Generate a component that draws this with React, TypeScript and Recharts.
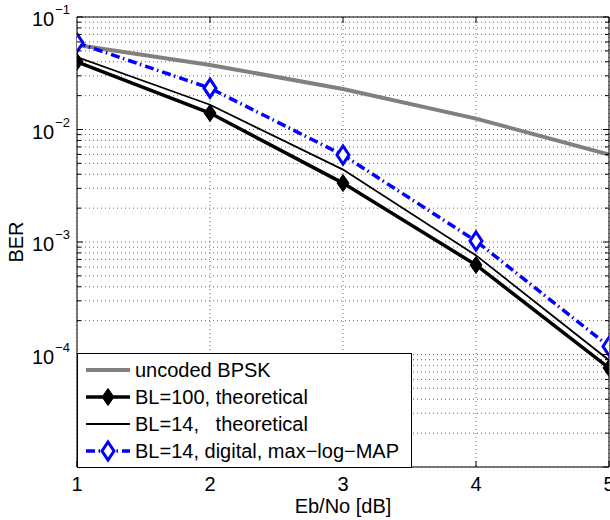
import React from 'react';
import { LineChart, Line, XAxis, YAxis, CartesianGrid, Legend, Label } from 'recharts';

// ---- data ----
const ebno = [1, 2, 3, 4, 5];
const uncodedBPSK = [0.0563, 0.0375, 0.0229, 0.0125, 0.006];
const bl100Theoretical = [0.04, 0.014, 0.00334, 0.000625, 0.000076];
const bl14Theoretical = [0.044, 0.0166, 0.0044, 0.00076, 0.000089];
const bl14Digital = [0.059, 0.0233, 0.00593, 0.00102, 0.000118];

const seriesNames = [
  'uncoded BPSK',
  'BL=100, theoretical',
  'BL=14,   theoretical',
  'BL=14, digital, max\u2212log\u2212MAP',
];

const xAxisTitle = 'Eb/No [dB]';
const yAxisTitle = 'BER';

// tick values
const yDecades = [-5, -4, -3, -2];
const yMinorMantissas = [2, 3, 4, 5, 6, 7, 8, 9];
const yLabelExponents = [-1, -2, -3, -4];
const yTopDecade = -1;

const FONT = "'Liberation Sans', Arial, Helvetica, sans-serif";

const yTicks: number[] = [];
yDecades.forEach((e) => {
  yTicks.push(Number(Math.pow(10, e).toPrecision(6)));
  yMinorMantissas.forEach((m) => yTicks.push(Number((m * Math.pow(10, e)).toPrecision(6))));
});
yTicks.push(Number(Math.pow(10, yTopDecade).toPrecision(6)));

const data = ebno.map((x, i) => ({
  x,
  uncoded: uncodedBPSK[i],
  bl100: bl100Theoretical[i],
  bl14: bl14Theoretical[i],
  digital: bl14Digital[i],
}));

type SeriesStyle = {
  key: string;
  name: string;
  color: string;
  width: number;
  dash?: string;
  marker?: 'filled' | 'open';
};

const series: SeriesStyle[] = [
  { key: 'uncoded', name: seriesNames[0], color: '#808080', width: 4 },
  { key: 'bl100', name: seriesNames[1], color: '#000000', width: 3.5, marker: 'filled' },
  { key: 'bl14', name: seriesNames[2], color: '#000000', width: 1.8 },
  { key: 'digital', name: seriesNames[3], color: '#0000ff', width: 3.5, dash: '9 3.5 1.5 4', marker: 'open' },
];

const isMajor = (v: number) => {
  const l = Math.log10(v);
  return Math.abs(l - Math.round(l)) < 1e-9;
};

function Diamond({ cx, cy, kind, color }: any) {
  if (cx == null || cy == null) return null;
  const filled = kind === 'filled';
  const hw = 6;
  const hh = filled ? 8.5 : 9;
  const d = `M${cx},${cy - hh} L${cx + hw},${cy} L${cx},${cy + hh} L${cx - hw},${cy} Z`;
  return (
    <path
      d={d}
      fill={filled ? color : '#ffffff'}
      stroke={color}
      strokeWidth={filled ? 1 : 3}
      strokeLinejoin="miter"
    />
  );
}

function YTickLeft(props: any) {
  const { x, y, payload } = props;
  const v = payload.value;
  const major = isMajor(v);
  const len = major ? 6 : 4;
  const exp = Math.round(Math.log10(v));
  const showLabel = major && yLabelExponents.includes(exp);
  return (
    <g>
      <line x1={x} x2={x + len} y1={y} y2={y} stroke="#000" strokeWidth={1} />
      {showLabel && (
        <text x={x - 7} y={y + 9} textAnchor="end" fontSize={20} fill="#000" fontFamily={FONT}>
          <tspan>10</tspan>
          <tspan dx={1} dy={-12} fontSize={13}>{'\u2212' + Math.abs(exp)}</tspan>
        </text>
      )}
    </g>
  );
}

function YTickRight(props: any) {
  const { x, y, payload } = props;
  const len = isMajor(payload.value) ? 6 : 4;
  return <line x1={x} x2={x - len} y1={y} y2={y} stroke="#000" strokeWidth={1} />;
}

function XTickBottom(props: any) {
  const { x, y, payload } = props;
  return (
    <g>
      <line x1={x} x2={x} y1={y} y2={y - 6} stroke="#000" strokeWidth={1} />
      <text x={x} y={y + 24} textAnchor="middle" fontSize={20} fill="#000" fontFamily={FONT}>
        {String(payload.value)}
      </text>
    </g>
  );
}

function XTickTop(props: any) {
  const { x, y } = props;
  return <line x1={x} x2={x} y1={y} y2={y + 6} stroke="#000" strokeWidth={1} />;
}

function YLabelContent() {
  const x = 23;
  const y = 242;
  return (
    <text
      x={x}
      y={y}
      transform={`rotate(-90, ${x}, ${y})`}
      textAnchor="middle"
      fontSize={20}
      fill="#000"
      fontFamily={FONT}
    >
      {yAxisTitle}
    </text>
  );
}

function LegendBox() {
  const w = 335;
  const h = 115;
  return (
    <svg width={w} height={h} style={{ display: 'block' }}>
      <rect x={0.5} y={0.5} width={w - 1} height={h - 1} fill="#fff" stroke="#000" strokeWidth={1} />
      {series.map((s, i) => {
        const cy = 17 + i * 27;
        return (
          <g key={s.key}>
            <line
              x1={9}
              x2={53}
              y1={cy}
              y2={cy}
              stroke={s.color}
              strokeWidth={s.width}
              strokeDasharray={s.dash}
            />
            {s.marker && <Diamond cx={31} cy={cy} kind={s.marker} color={s.color} />}
            <text
              x={58}
              y={cy + 7}
              fontSize={20}
              fill="#000"
              fontFamily={FONT}
              style={{ whiteSpace: 'pre' }}
            >
              {s.name}
            </text>
          </g>
        );
      })}
    </svg>
  );
}

export default function App() {
  return (
    <div style={{ position: 'absolute', left: 0, top: 0, width: 610, height: 520, background: '#fff' }}>
      <LineChart
        width={610}
        height={520}
        data={data}
        margin={{ top: 0, right: 0, bottom: 0, left: 0 }}
        style={{ fontFamily: FONT }}
      >
        <CartesianGrid stroke="#6a6a6a" strokeDasharray="1 3" strokeWidth={1} />
        <XAxis
          dataKey="x"
          type="number"
          domain={[1, 5]}
          ticks={ebno}
          interval={0}
          height={53}
          tickLine={false}
          tickSize={0}
          tickMargin={0}
          axisLine={{ stroke: '#000' }}
          tick={(p: any) => <XTickBottom {...p} />}
          allowDataOverflow
        />
        <XAxis
          xAxisId="top"
          orientation="top"
          type="number"
          domain={[1, 5]}
          ticks={ebno}
          interval={0}
          height={17}
          tickLine={false}
          tickSize={0}
          tickMargin={0}
          axisLine={{ stroke: '#000' }}
          tick={(p: any) => <XTickTop {...p} />}
          allowDataOverflow
        />
        <YAxis
          type="number"
          scale="log"
          domain={[1e-5, 1e-1]}
          ticks={yTicks}
          interval={0}
          width={77}
          tickLine={false}
          tickSize={0}
          tickMargin={0}
          axisLine={{ stroke: '#000' }}
          tick={(p: any) => <YTickLeft {...p} />}
          allowDataOverflow
        >
          <Label content={() => <YLabelContent />} />
        </YAxis>
        <YAxis
          yAxisId="right"
          orientation="right"
          type="number"
          scale="log"
          domain={[1e-5, 1e-1]}
          ticks={yTicks}
          interval={0}
          width={1}
          tickLine={false}
          tickSize={0}
          tickMargin={0}
          axisLine={{ stroke: '#000' }}
          tick={(p: any) => <YTickRight {...p} />}
          allowDataOverflow
        />
        {series.map((s) => (
          <Line
            key={s.key}
            dataKey={s.key}
            name={s.name}
            type="linear"
            stroke={s.color}
            strokeWidth={s.width}
            strokeDasharray={s.dash}
            isAnimationActive={false}
            activeDot={false}
            dot={
              s.marker
                ? (p: any) => <Diamond key={`${s.key}-${p.index}`} cx={p.cx} cy={p.cy} kind={s.marker} color={s.color} />
                : false
            }
          />
        ))}
        <Legend
          layout="vertical"
          align="center"
          verticalAlign="middle"
          wrapperStyle={{ left: 77, top: 353, width: 335, height: 115 }}
          content={() => <LegendBox />}
        />
      </LineChart>
      <div
        style={{
          position: 'absolute',
          left: 243,
          top: 494,
          width: 200,
          height: 24,
          textAlign: 'center',
          fontFamily: FONT,
          fontSize: 20,
          lineHeight: '24px',
          color: '#000',
          pointerEvents: 'none',
        }}
      >
        {xAxisTitle}
      </div>
    </div>
  );
}
